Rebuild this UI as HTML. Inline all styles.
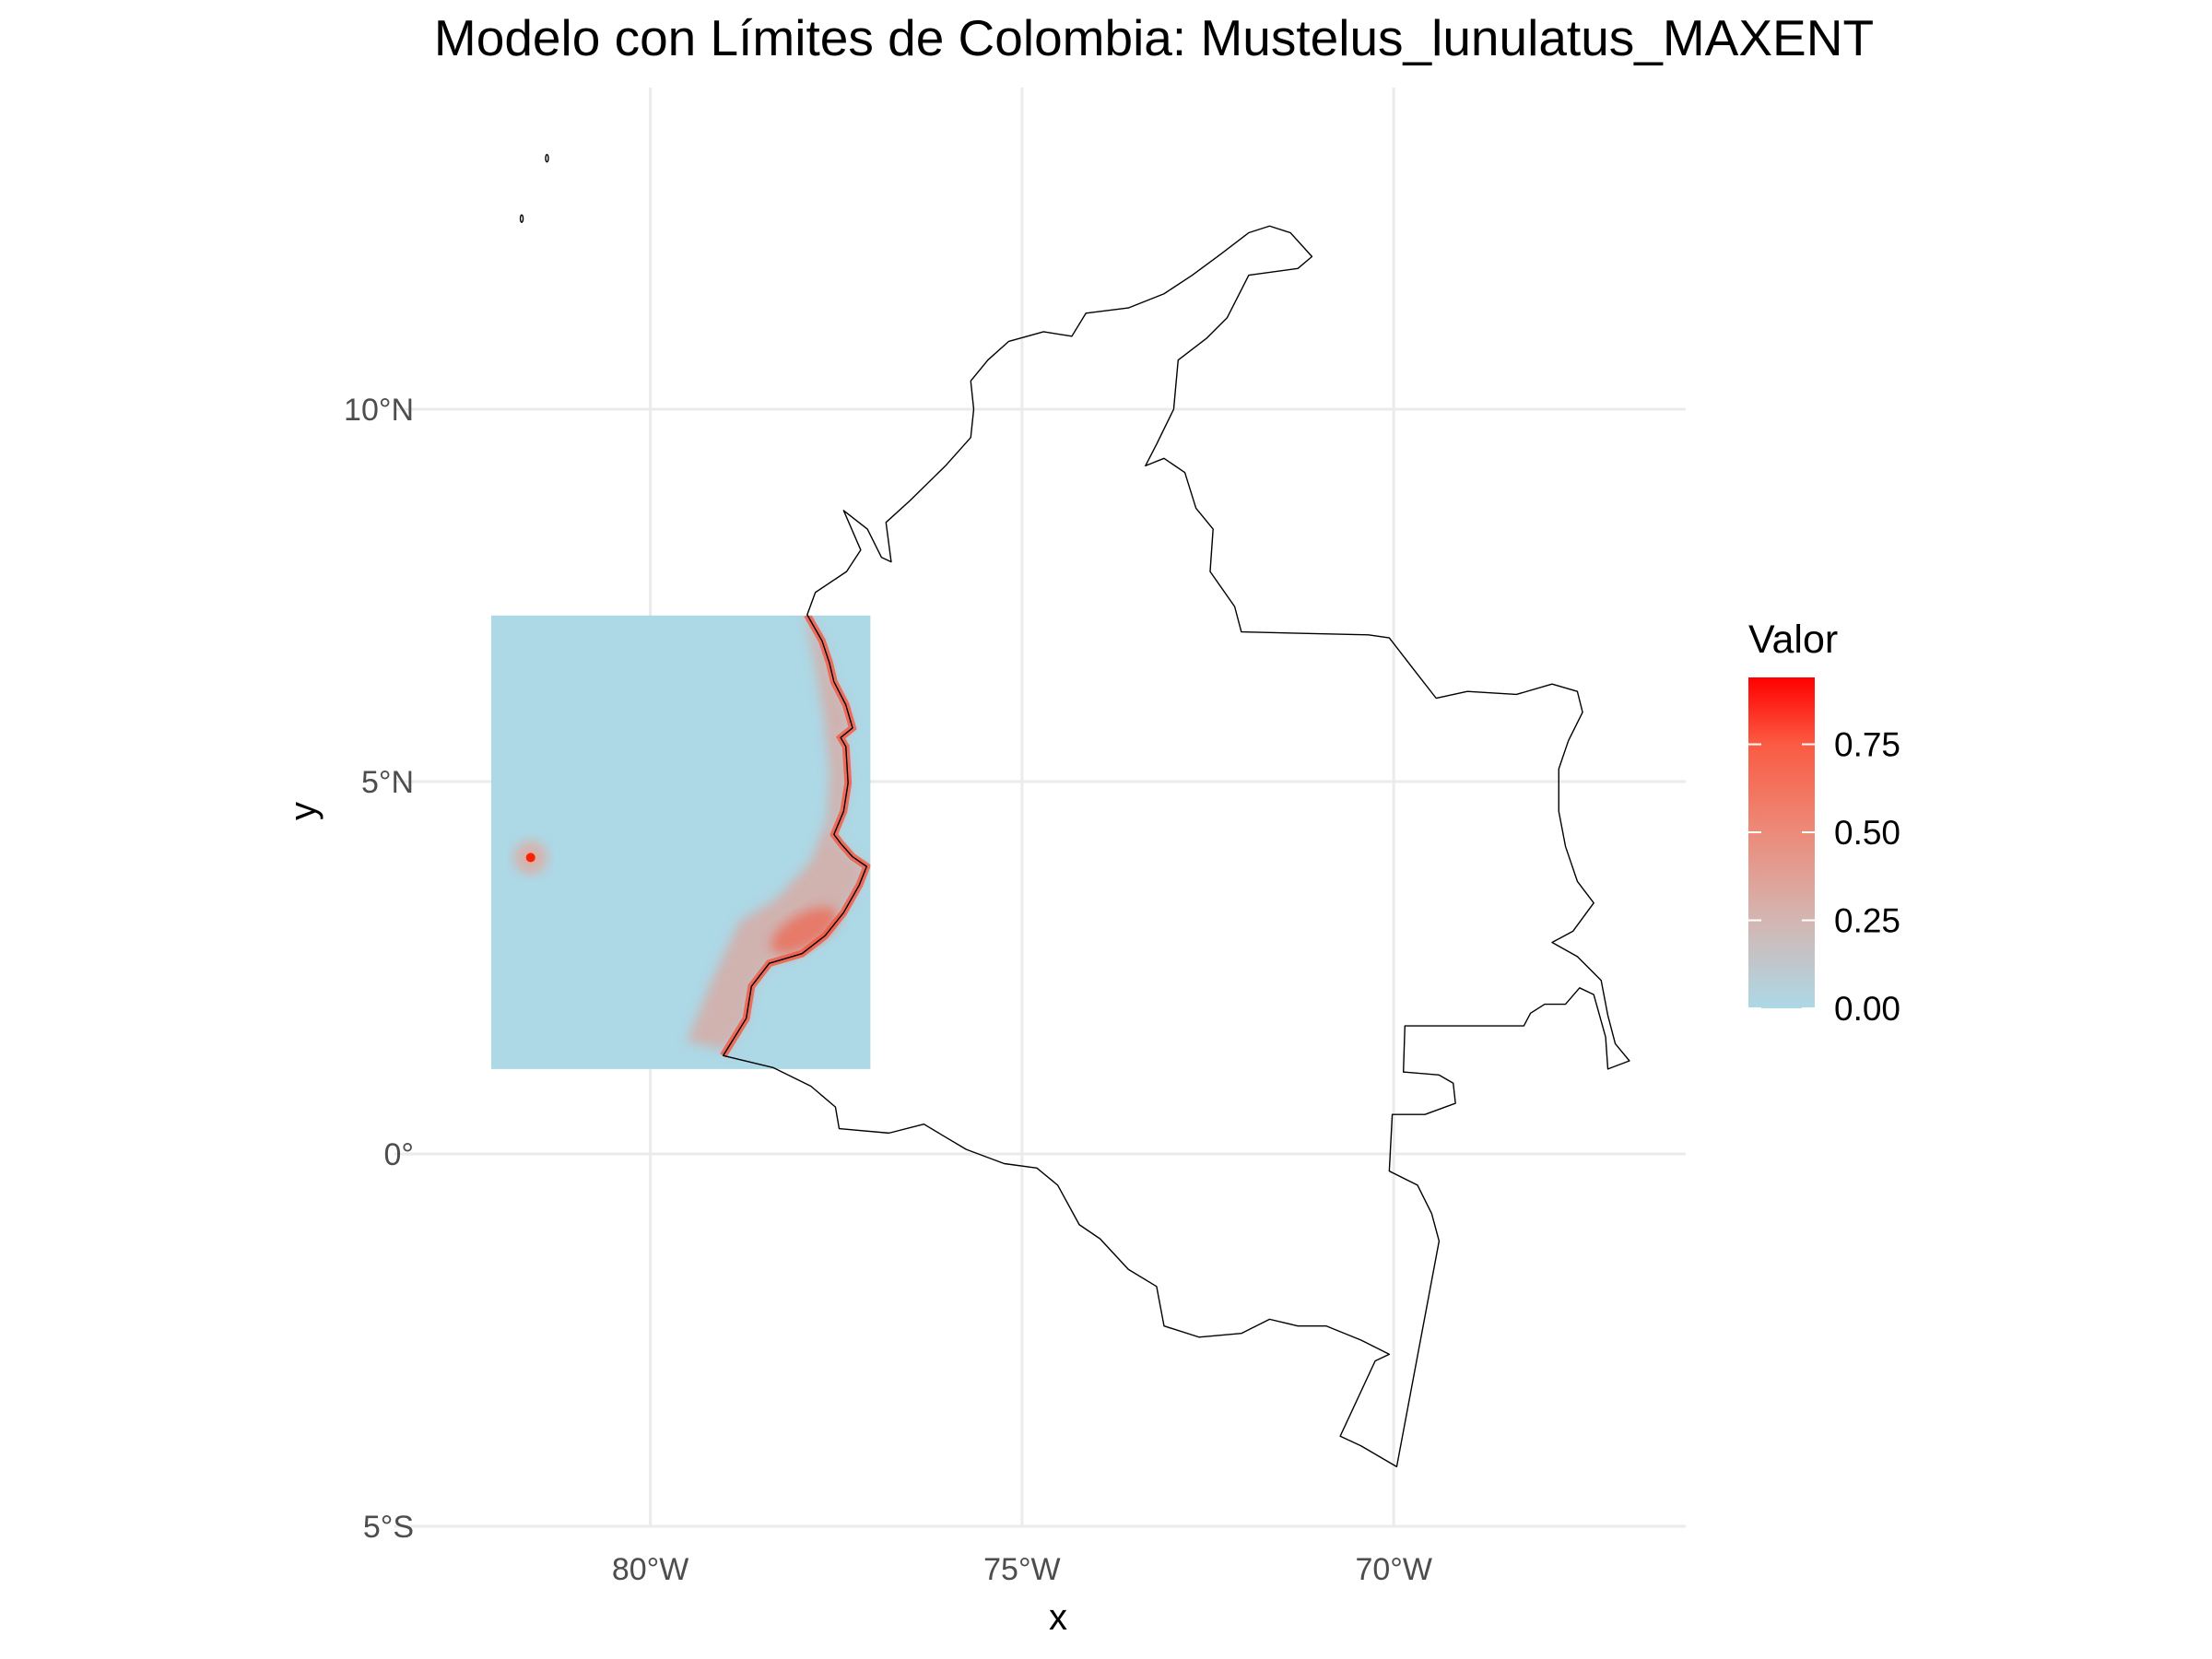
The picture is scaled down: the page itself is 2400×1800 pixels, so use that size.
<!DOCTYPE html>
<html><head><meta charset="utf-8">
<style>
html,body{margin:0;padding:0;background:#fff;}
svg{display:block;font-family:"Liberation Sans",sans-serif;}
</style></head>
<body>
<svg id="chart" width="2400" height="1800" viewBox="0 0 2400 1800" xmlns="http://www.w3.org/2000/svg">
<defs>
<linearGradient id="cbar" x1="0" y1="1" x2="0" y2="0">
<stop offset="0" stop-color="#ADD8E6"/>
<stop offset="0.27" stop-color="#d4b5b1"/>
<stop offset="0.53" stop-color="#ec8b7a"/>
<stop offset="0.8" stop-color="#fb5a42"/>
<stop offset="1" stop-color="#ff0000"/>
</linearGradient>
<filter id="soft" x="-20%" y="-20%" width="140%" height="140%"><feGaussianBlur stdDeviation="6"/></filter>
<clipPath id="rclip"><rect id="rclipRect" x="0" y="0" width="0" height="0"/></clipPath>
</defs>
<g id="grid"></g>
<g id="raster"></g>
<g id="outline"></g>
<g id="axes"></g>
<text x="1252" y="60" font-size="55" text-anchor="middle" fill="#000">Modelo con Límites de Colombia: Mustelus_lunulatus_MAXENT</text>
<text x="1148" y="1768" font-size="40" text-anchor="middle" fill="#000">x</text>
<text x="0" y="0" font-size="40" text-anchor="middle" fill="#000" transform="translate(342,880) rotate(-90)">y</text>
<g id="legend">
<text x="1897" y="708" font-size="43" fill="#000">Valor</text>
<rect x="1897" y="735" width="72" height="359" fill="url(#cbar)"/>
</g>
</svg>
<script>
const xTicks = [-80, -75, -70];
const xTickLabels = ["80°W", "75°W", "70°W"];
const yTicks = [10, 5, 0, -5];
const yTickLabels = ["10°N", "5°N", "0°", "5°S"];
const legendTicks = [0, 0.25, 0.5, 0.75];
const legendLabels = ["0.00", "0.25", "0.50", "0.75"];
const legendMax = 0.94;
const rasterExtent = [-82.14, -77.04, 1.14, 7.23]; // lonMin, lonMax, latMin, latMax
const boundaryLon = [-79.02,-78.71,-78.64,-78.40,-77.96,-77.65,-77.40,-77.19,-77.09,-77.28,-77.44,-77.53,-77.40,-77.34,-77.37,-77.44,-77.28,-77.37,-77.53,-77.59,-77.69,-77.89,
-77.78,-77.36,-77.17,-77.40,-77.08,-76.89,-76.76,-76.83,-76.51,-76.03,-75.69,-75.65,-75.69,-75.46,-75.18,-74.71,-74.33,-74.14,-73.57,-73.09,-72.71,-72.33,-71.95,-71.67,-71.39,-71.10,-71.29,-71.95,-72.24,-72.52,-72.90,-72.96,-73.19,-73.34,-73.09,-72.81,-72.66,-72.43,-72.47,-72.14,-72.05,-70.34,-70.06,-69.68,-69.43,-69.01,-68.35,-67.87,-67.53,-67.46,-67.65,-67.78,-67.78,-67.69,-67.53,-67.31,-67.59,-67.87,-67.53,-67.21,-67.12,-67.02,-66.83,-67.12,-67.15,-67.31,-67.50,-67.69,-67.97,-68.16,-68.25,-69.85,-69.87,-69.39,-69.20,-69.17,-69.58,-70.02,-70.06,-69.68,-69.49,-69.39,-69.96,-70.44,-70.72,-70.25,-70.06,-70.44,-70.91,-71.29,-71.67,-72.05,-72.62,-73.09,-73.19,-73.57,-73.95,-74.23,-74.52,-74.80,-75.24,-75.75,-76.07,-76.32,-76.79,-77.46,-77.51,-77.84,-78.35];
const boundaryLat = [1.32,1.82,2.25,2.56,2.69,2.93,3.24,3.61,3.86,3.99,4.17,4.29,4.60,4.98,5.47,5.59,5.72,6.03,6.34,6.59,6.89,7.24,
7.54,7.82,8.11,8.64,8.39,8.01,7.95,8.48,8.77,9.24,9.62,10.00,10.38,10.66,10.91,11.04,10.98,11.29,11.36,11.55,11.80,12.08,12.37,12.46,12.37,12.05,11.89,11.80,11.23,10.95,10.66,10.00,9.53,9.24,9.34,9.15,8.67,8.39,7.82,7.35,7.01,6.97,6.93,6.44,6.12,6.21,6.17,6.31,6.21,5.93,5.55,5.17,4.60,4.13,3.66,3.37,2.99,2.84,2.65,2.33,1.86,1.48,1.25,1.14,1.57,2.14,2.23,2.01,2.01,1.89,1.72,1.72,1.10,1.06,0.95,0.68,0.53,0.53,-0.23,-0.42,-0.80,-1.17,-4.20,-3.92,-3.79,-2.78,-2.69,-2.50,-2.31,-2.31,-2.22,-2.41,-2.46,-2.31,-1.78,-1.55,-1.14,-0.95,-0.42,-0.19,-0.13,0.06,0.25,0.40,0.28,0.34,0.63,0.91,1.16];
const coastCount = 22;
const hotZoneLon = [-77.92,-77.78,-77.66,-77.58,-77.62,-77.85,-78.30,-78.80,-79.15,-79.51,-78.95];
const hotZoneLat = [7.24,6.58,5.84,5.10,4.48,3.92,3.43,3.12,2.38,1.51,1.39];
const islandLon = [-81.39, -81.73];
const islandLat = [13.37, 12.56];
const malpeloLon = -81.61, malpeloLat = 3.98;

const NS = "http://www.w3.org/2000/svg";
const X0 = 705.6, XS = 80.66, Y0 = 1252, YS = 80.8;
function sx(lon){ return X0 + (lon + 80) * XS; }
function sy(lat){ return Y0 - lat * YS; }
function mk(tag, attrs, parent){ const e = document.createElementNS(NS, tag); for (const k in attrs) e.setAttribute(k, attrs[k]); parent.appendChild(e); return e; }
const grid = document.getElementById('grid'), axes = document.getElementById('axes');
const PX0 = 428, PX1 = 1829, PY0 = 95, PY1 = 1656;
xTicks.forEach((v,i)=>{
  const l = mk('line',{x1:sx(v),x2:sx(v),y1:PY0,y2:PY1,stroke:'#ebebeb','stroke-width':3},grid);
  
  
  const t = mk('text',{x:sx(v),y:1714,'font-size':34,'text-anchor':'middle',fill:'#4d4d4d'},axes);
  t.textContent = xTickLabels[i];
  
  
});
yTicks.forEach((v,i)=>{
  const l = mk('line',{x1:PX0,x2:PX1,y1:sy(v),y2:sy(v),stroke:'#ebebeb','stroke-width':3},grid);
  
  
  const t = mk('text',{x:449,y:sy(v)+12,'font-size':34,'text-anchor':'end',fill:'#4d4d4d'},axes);
  t.textContent = yTickLabels[i];
  
  
});
// raster
const raster = document.getElementById('raster');
const rx = sx(rasterExtent[0]), rw = sx(rasterExtent[1]) - rx, ry = sy(rasterExtent[3]), rh = sy(rasterExtent[2]) - ry;
const cr = document.getElementById('rclipRect');
cr.setAttribute('x', rx); cr.setAttribute('y', ry); cr.setAttribute('width', rw); cr.setAttribute('height', rh);
const bg = mk('rect',{x:rx,y:ry,width:rw,height:rh,fill:'#ADD8E6'},raster);


const hg = mk('g',{'clip-path':'url(#rclip)'},raster);
let zpts = [];
for (let i=0;i<coastCount;i++) zpts.push(sx(boundaryLon[i])+','+sy(boundaryLat[i]));
for (let i=0;i<hotZoneLon.length;i++) zpts.push(sx(hotZoneLon[i])+','+sy(hotZoneLat[i]));
const zone = mk('polygon',{points:zpts.join(' '),fill:'#ec9482','fill-opacity':0.55,filter:'url(#soft)'},hg);


const cpts = []; for (let i=0;i<coastCount;i++) cpts.push(sx(boundaryLon[i])+','+sy(boundaryLat[i]));
const cl = mk('polyline',{points:cpts.join(' '),fill:'none',stroke:'#f8553e','stroke-width':8,'stroke-opacity':0.8},hg);


const hs = mk('ellipse',{cx:sx(-77.93),cy:sy(3.0),rx:40,ry:18,fill:'#fa4a30','fill-opacity':0.55,filter:'url(#soft)',transform:'rotate(-30 '+sx(-77.93)+' '+sy(3.0)+')'},hg);


const mp = mk('circle',{cx:sx(malpeloLon),cy:sy(malpeloLat),r:18,fill:'#e9a092','fill-opacity':0.7,filter:'url(#soft)'},hg);


const mp2 = mk('circle',{cx:sx(malpeloLon),cy:sy(malpeloLat),r:5,fill:'#ff2000'},hg);


// outline
const ol = document.getElementById('outline');
const bp = boundaryLon.map((v,i)=>sx(v)+','+sy(boundaryLat[i])).join(' ');
const poly = mk('polygon',{points:bp,fill:'none',stroke:'#000','stroke-width':1.4,'stroke-linejoin':'round'},ol);


islandLon.forEach((v,i)=>{
  const c = mk('ellipse',{cx:sx(v),cy:sy(islandLat[i]),rx:1.5,ry:4,fill:'none',stroke:'#000','stroke-width':1.4},ol);
  
  
});
// legend
const lg = document.getElementById('legend');
const LB = 1094, LT = 735;
function ly(v){ return LB - v / legendMax * (LB - LT); }
legendTicks.forEach((v,i)=>{
  const y = ly(v);
  const a = mk('line',{x1:1897,x2:1911,y1:y,y2:y,stroke:'#fff','stroke-width':2},lg);
  
  
  const b = mk('line',{x1:1955,x2:1969,y1:y,y2:y,stroke:'#fff','stroke-width':2},lg);
  
  
  const t = mk('text',{x:1990,y:y+13,'font-size':37,fill:'#000'},lg);
  t.textContent = legendLabels[i];
  
  
});
</script>
</body></html>
